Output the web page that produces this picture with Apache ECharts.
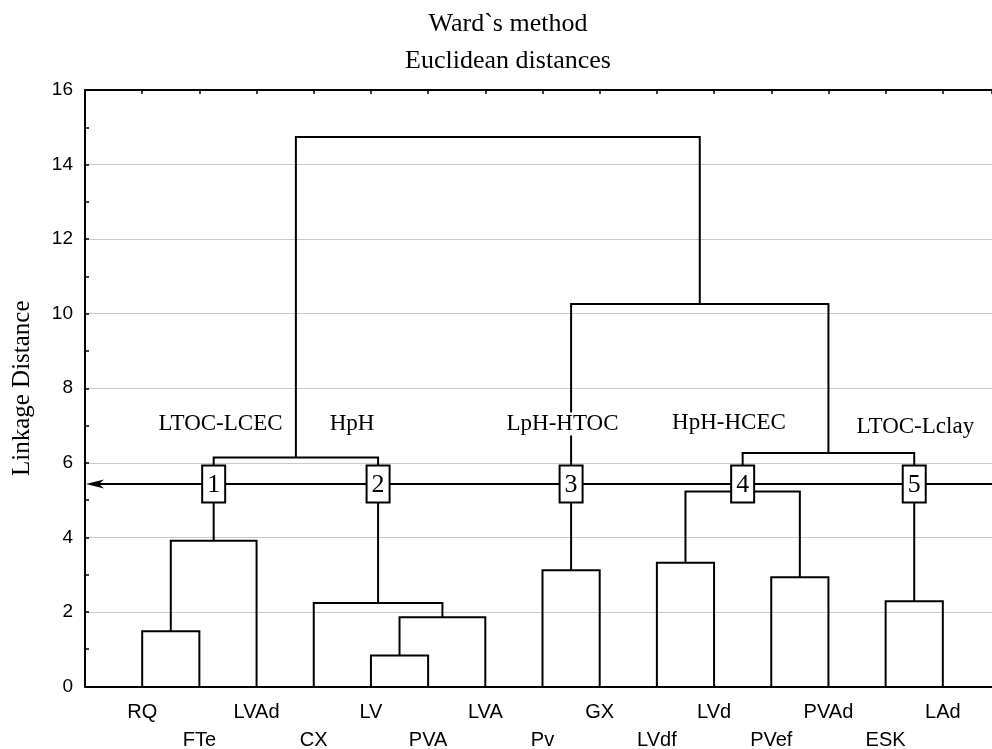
<!DOCTYPE html>
<html>
<head>
<meta charset="utf-8">
<script src="https://cdn.jsdelivr.net/npm/echarts@6/dist/echarts.min.js"></script>
<style>
html,body{margin:0;padding:0;background:#fff;overflow:hidden;}
#chart{width:992px;height:749px;}
</style>
</head>
<body>
<div id="chart"></div>
<script>
// ---- data ----
const titleLines = ['Ward`s method', 'Euclidean distances'];
const axisName = 'Linkage Distance';
const leaves = ['RQ','FTe','LVAd','CX','LV','PVA','LVA','Pv','GX','LVdf','LVd','PVef','PVAd','ESK','LAd'];
// merges: node A + node B at linkage distance; leaves are 0..14, merge k creates node 15+k
const mergeA = [0, 15, 4, 17, 3, 16, 7, 9, 11, 22, 13, 24, 21, 20];
const mergeB = [1, 2, 5, 6, 18, 19, 8, 10, 12, 23, 14, 25, 26, 27];
const mergeHeight = [1.48, 3.91, 0.83, 1.86, 2.24, 6.14, 3.12, 3.32, 2.93, 5.23, 2.29, 6.26, 10.26, 14.74];
const cutHeight = 5.43;
const clusterNumbers = ['1','2','3','4','5'];
const clusterNames = ['LTOC-LCEC','HpH','LpH-HTOC','HpH-HCEC','LTOC-Lclay'];
const yMin = 0, yMax = 16, yStep = 2;

// ---- layout constants (not data) ----
const xMin = -1, xMax = 14.86;
const nameAnchorX = [1.37, 3.67, 7.35, 10.26, 13.52];
const nameAnchorY = [7.04, 7.04, 7.04, 7.08, 6.97];

// ---- build dendrogram geometry ----
const nodeX = leaves.map((_, i) => i);
const nodeH = leaves.map(() => 0);
const parentH = [];
const segs = [];
mergeA.forEach((a, k) => {
  const b = mergeB[k], h = mergeHeight[k];
  const id = leaves.length + k;
  nodeX[id] = (nodeX[a] + nodeX[b]) / 2;
  nodeH[id] = h;
  parentH[a] = h; parentH[b] = h;
  segs.push({coords: [[nodeX[a], nodeH[a]], [nodeX[a], h], [nodeX[b], h], [nodeX[b], nodeH[b]]]});
});
// clusters cut by the line
const boxes = [];
nodeX.forEach((x, id) => {
  if (nodeH[id] < cutHeight && parentH[id] !== undefined && parentH[id] > cutHeight) boxes.push(x);
});
boxes.sort((p, q) => p - q);
const boxData = boxes.map((x, i) => [x, cutHeight, clusterNumbers[i]]);
const nameData = clusterNames.map((n, i) => [nameAnchorX[i], nameAnchorY[i], n]);

const serif = '"Liberation Serif", "Times New Roman", serif';
const sans = '"Liberation Sans", Arial, sans-serif';

const chart = echarts.init(document.getElementById('chart'), null, {renderer: 'canvas'});
chart.setOption({
  animation: false,
  backgroundColor: '#fff',
  graphic: [
    {type: 'text', x: 508, y: 24, z: 10, style: {text: titleLines[0], font: '26px ' + serif, fill: '#000', align: 'center', verticalAlign: 'middle'}},
    {type: 'text', x: 508, y: 61, z: 10, style: {text: titleLines[1], font: '26px ' + serif, fill: '#000', align: 'center', verticalAlign: 'middle'}}
  ],
  grid: {left: 85, top: 90, right: 0, bottom: 62.5, containLabel: false, outerBoundsMode: 'none'},
  xAxis: [
    {
      type: 'value', position: 'bottom', min: xMin, max: xMax, interval: 1,
      axisLine: {show: true, onZero: false, lineStyle: {color: '#000', width: 2}},
      axisTick: {show: false},
      splitLine: {show: false},
      axisLabel: {
        show: true, margin: 12, color: '#000', fontSize: 20, fontFamily: sans, lineHeight: 28,
        showMaxLabel: false,
        formatter: v => {
          const i = Math.round(v);
          if (i < 0 || i >= leaves.length) return '';
          return i % 2 === 0 ? leaves[i] : '\n' + leaves[i];
        }
      }
    },
    {
      type: 'value', position: 'top', min: xMin, max: xMax, interval: 1,
      axisLine: {show: true, onZero: false, lineStyle: {color: '#000', width: 2}},
      axisTick: {show: true, inside: true, length: 4, lineStyle: {color: '#000', width: 1.5}},
      axisLabel: {show: false},
      splitLine: {show: false}
    }
  ],
  yAxis: {
    type: 'value', min: yMin, max: yMax, interval: yStep,
    name: axisName, nameLocation: 'middle', nameGap: 50,
    nameTextStyle: {color: '#000', fontSize: 25, fontFamily: serif},
    axisLine: {show: true, onZero: false, lineStyle: {color: '#000', width: 2}},
    axisTick: {show: true, inside: true, length: 4, lineStyle: {color: '#000', width: 1.5}},
    minorTick: {show: true, splitNumber: 2, length: 4, lineStyle: {color: '#000', width: 1.5}},
    splitLine: {show: true, lineStyle: {color: '#c8c8c8', width: 1}},
    axisLabel: {color: '#000', fontSize: 19, fontFamily: sans, margin: 12}
  },
  series: [
    {
      type: 'lines', coordinateSystem: 'cartesian2d', polyline: true, z: 2,
      silent: true,
      lineStyle: {color: '#000', width: 2, opacity: 1},
      data: segs
    },
    {
      // cut line with arrow head pointing to the axis
      type: 'custom', coordinateSystem: 'cartesian2d', z: 3, silent: true,
      encode: {x: 0, y: 1},
      data: [[xMin, cutHeight, xMax]],
      renderItem: (params, api) => {
        const a = api.coord([api.value(0), api.value(1)]);
        const b = api.coord([api.value(2), api.value(1)]);
        const tx = a[0] + 1, ty = a[1];
        return {
          type: 'group',
          children: [
            {type: 'line', shape: {x1: tx + 10, y1: ty, x2: b[0] + 2, y2: ty}, style: {stroke: '#000', lineWidth: 2}},
            {type: 'polygon', shape: {points: [[tx, ty], [tx + 18, ty - 4.5], [tx + 13, ty], [tx + 18, ty + 4.5]]}, style: {fill: '#000'}}
          ]
        };
      }
    },
    {
      type: 'custom', coordinateSystem: 'cartesian2d', z: 5, silent: true,
      encode: {x: 0, y: 1},
      data: boxData,
      renderItem: (params, api) => {
        const p = api.coord([api.value(0), api.value(1)]);
        return {
          type: 'group',
          children: [
            {type: 'rect', shape: {x: p[0] - 11.5, y: p[1] - 18.5, width: 23, height: 37},
             style: {fill: '#fff', stroke: '#000', lineWidth: 2}},
            {type: 'text', x: p[0], y: p[1] + 1,
             style: {text: boxData[params.dataIndex][2], font: '26px ' + serif, fill: '#000', align: 'center', verticalAlign: 'middle'}}
          ]
        };
      }
    },
    {
      type: 'custom', coordinateSystem: 'cartesian2d', z: 6, silent: true,
      encode: {x: 0, y: 1},
      data: nameData,
      renderItem: (params, api) => {
        const p = api.coord([api.value(0), api.value(1)]);
        return {
          type: 'text', x: p[0], y: p[1],
          style: {text: nameData[params.dataIndex][2], font: '23px ' + serif, fill: '#000', align: 'center', verticalAlign: 'middle', backgroundColor: '#fff', padding: [0, 2]}
        };
      }
    }
  ]
});
</script>
</body>
</html>
